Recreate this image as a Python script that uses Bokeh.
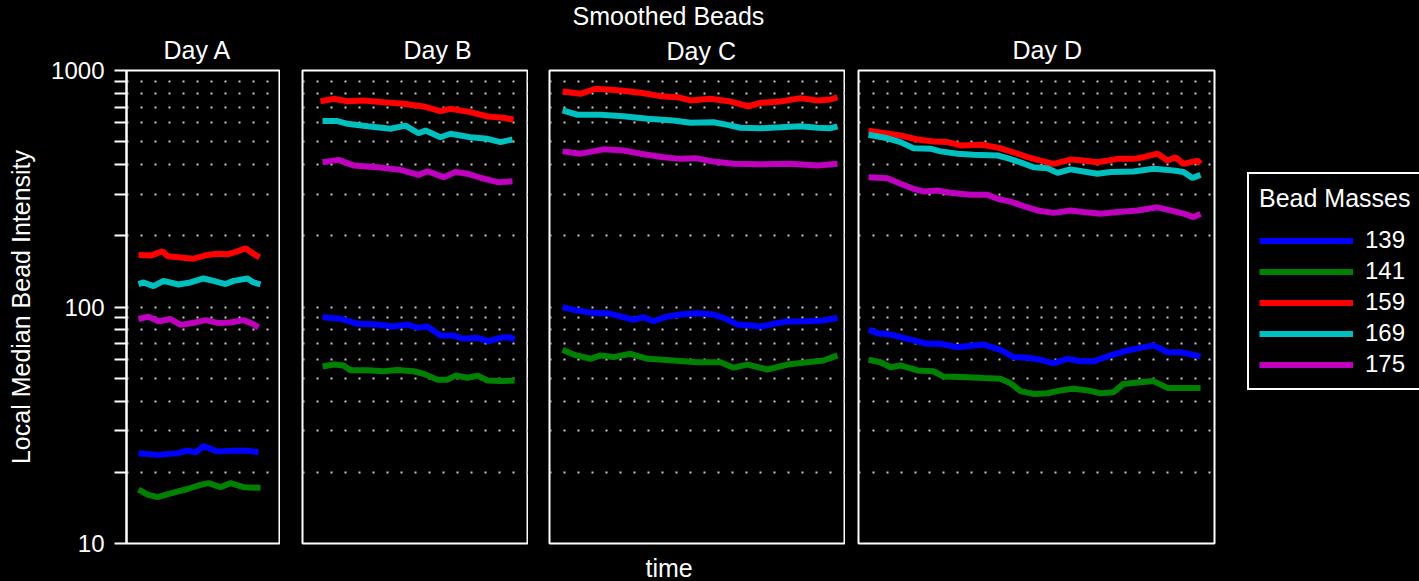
from bokeh.plotting import figure
from bokeh.layouts import row
from bokeh.models import (Range1d, FixedTicker, BasicTickFormatter, Grid,
                          Legend, LegendItem, Title)
from bokeh.embed import file_html
from bokeh.resources import INLINE

FONT = "Liberation Sans"

# Bead masses and their line colours
masses = ["139", "141", "159", "169", "175"]
colors = ["#0000ff", "#008000", "#ff0000", "#00bfbf", "#bf00bf"]

# Smoothed local median intensities: mass -> (time in minutes, intensity)
day_a = {
    "139": ([0, 4.75, 9.75, 12.25, 14.25, 16.25, 19.75, 23.75, 27.25, 30],
            [24.1, 23.7, 24.1, 24.7, 24.3, 25.8, 24.5, 24.7, 24.7, 24.3]),
    "141": ([0, 2.25, 4.75, 8.75, 12.25, 15.5, 17.5, 20.5, 23, 26.25, 30.5],
            [16.9, 16.1, 15.7, 16.4, 17.0, 17.7, 18.0, 17.3, 18.0, 17.3, 17.2]),
    "159": ([0, 3, 6, 7.25, 10.5, 13.75, 17.25, 19.75, 22.25, 24.75, 26.75, 28.75, 30.25],
            [166, 165, 172, 164, 162, 160, 166, 168, 167, 172, 177, 168, 162]),
    "169": ([0, 1.25, 3.75, 6.25, 10, 13, 16.25, 18.75, 21.75, 23.75, 27.25, 28.75, 30.5],
            [125, 127, 122.5, 129, 124.5, 127, 132, 129, 125, 129, 132, 127, 124.5]),
    "175": ([0, 2.5, 5, 8, 10.5, 13.5, 16.75, 20, 23, 26.25, 28.5, 30],
            [89, 91, 87, 89, 84, 85.5, 88, 85.5, 86, 88, 85, 82]),
}

day_b = {
    "139": ([0.5, 5, 9.25, 14.25, 18.25, 21.75, 24.25, 26.75, 30, 33.25, 35.75, 39.25, 42, 45, 47.5, 48.5],
            [90.6, 89.2, 84.9, 84.3, 82.7, 84.3, 81.7, 82.7, 75.7, 75.7, 73.4, 74.1, 71.7, 74.1, 74.5, 72.7]),
    "141": ([0.5, 3.25, 5.75, 7.5, 11.75, 15.75, 19.25, 23.25, 25.75, 29.25, 31.75, 33.75, 36.75, 39.25, 41.75, 45, 48.5],
            [56.0, 57.1, 56.6, 54.0, 54.0, 53.5, 54.2, 53.5, 52.2, 49.3, 49.3, 51.3, 50.2, 51.3, 48.9, 48.6, 48.9]),
    "159": ([0, 3.25, 6.75, 10.75, 15.75, 20.75, 25.75, 30, 32.5, 37.5, 41.75, 45.75, 48.25],
            [741, 759, 741, 747, 734, 723, 705, 673, 689, 667, 639, 631, 619]),
    "169": ([0.5, 4.25, 6.75, 11.75, 17.5, 21.25, 24.5, 26.25, 30, 32.5, 37.5, 41.75, 45, 48],
            [611, 611, 595, 581, 567, 585, 543, 557, 522, 540, 522, 514, 498, 511]),
    "175": ([0.5, 4.5, 8.25, 14.25, 20, 24.5, 26.75, 30.75, 33.75, 36.75, 40, 44.25, 48],
            [409, 419, 397, 390, 380, 362, 375, 354, 372, 366, 352, 337, 340]),
}

day_c = {
    "139": ([0, 2.75, 6.25, 9.5, 11.25, 14.5, 17.75, 20.25, 22.75, 26.25, 29.5, 33.75, 37.75, 40.25,
             43.75, 47, 49.5, 52.75, 56.25, 61.25, 65.25, 68.75],
            [99.8, 97.3, 95.1, 94.2, 94.2, 91.2, 88.3, 90.6, 87.1, 91.2, 92.9, 94.2, 92.9, 90.0,
             84.3, 83.5, 82.7, 84.9, 86.9, 87.1, 87.7, 90.0]),
    "141": ([0, 2.75, 7, 9.5, 12.75, 17, 21.25, 27.75, 33.75, 39.5, 42.75, 46.25, 51.25, 56.25, 61.25, 65.25, 68.75],
            [65.9, 62.9, 60.4, 62.4, 61.4, 63.4, 60.4, 59.4, 58.4, 58.4, 55.4, 57.1, 54.4, 57.1, 58.4, 59.4, 62.4]),
    "159": ([0, 4.5, 8.25, 14.5, 19.5, 24.5, 28.75, 32, 37, 42, 46.5, 49.5, 54.5, 59.5, 63.75, 67, 68.75],
            [815, 797, 837, 823, 805, 779, 771, 747, 759, 739, 706, 730, 739, 764, 747, 754, 771]),
    "169": ([0, 3.75, 9.5, 15.25, 21.25, 27.75, 32, 37.75, 41.25, 44.5, 49.5, 54.5, 59.5, 63.75, 67, 68.75],
            [678, 650, 650, 641, 625, 615, 601, 604, 589, 573, 570, 575, 581, 573, 570, 581]),
    "175": ([0, 4.5, 10.25, 15.25, 19.5, 25.25, 29.5, 33.25, 37.75, 42.75, 49.5, 57, 63.75, 68.75],
            [455, 445, 464, 459, 445, 430, 423, 426, 412, 403, 401, 403, 397, 403]),
}

day_d = {
    "139": ([0, 2.25, 5.5, 9.75, 14.75, 18, 22.25, 26.25, 28.75, 33, 36.25, 39.75, 43, 46.25, 49.75,
             53, 56.25, 59.75, 64.75, 68, 71.25, 74.75, 78, 83],
            [80.1, 77.5, 76.5, 73.3, 69.9, 69.9, 67.6, 68.8, 69.4, 65.9, 61.4, 61.0, 59.8, 57.8, 60.4,
             59.0, 58.9, 61.8, 65.5, 67.2, 68.8, 64.4, 64.4, 61.8]),
    "141": ([0, 3, 5.5, 8, 12.25, 16.25, 18.75, 24.75, 28.75, 33, 35.5, 38, 41.25, 44.75, 48, 51.25,
             54.75, 58, 61.25, 63.75, 68, 71.25, 74.75, 78, 83],
            [59.8, 58.4, 55.6, 56.6, 53.9, 53.5, 50.8, 50.5, 50.1, 49.7, 47.6, 44.1, 42.9, 43.2, 44.4, 45.1,
             44.4, 43.2, 43.6, 47.3, 48.1, 48.6, 45.5, 45.5, 45.5]),
    "159": ([0, 3.75, 8, 12.25, 16.25, 19.75, 23, 28.75, 33, 36.25, 39.75, 43, 46.25, 50.5, 53.75,
             57.25, 62.25, 66.25, 68.75, 72.25, 74.75, 76.75, 78.75, 82.25, 83],
            [557, 545, 531, 511, 501, 498, 482, 485, 469, 451, 430, 416, 403, 420, 416,
             409, 423, 423, 430, 445, 416, 430, 403, 416, 403]),
    "169": ([0, 4.75, 8, 11.25, 15.5, 18, 22.25, 26.25, 32.25, 34.75, 38, 41.25, 44.75, 47.25, 50.5,
             53.75, 57.25, 60.5, 66.25, 71.25, 76.25, 78.75, 81, 83],
            [535, 517, 498, 469, 467, 455, 445, 440, 437, 426, 409, 390, 386, 369, 382,
             374, 366, 372, 374, 384, 378, 372, 351, 362]),
    "175": ([0, 4.75, 8, 11.25, 13.75, 17.25, 20.5, 25.5, 29.75, 32.25, 35.5, 38.75, 42.25, 46.25,
             50.5, 53.75, 58, 62.25, 67.25, 72.25, 75.5, 78.75, 81.25, 83],
            [354, 350, 332, 316, 308, 311, 304, 298, 298, 287, 279, 267, 256, 250,
             256, 252, 248, 252, 256, 264, 256, 248, 240, 248]),
}

day_names = ["Day A", "Day B", "Day C", "Day D"]
day_series = [day_a, day_b, day_c, day_d]
day_time_ranges = [(-3, 35.5), (-4.5, 52), (-3.25, 70.75), (-2.5, 86.5)]

# Log-scale y axis: labelled decades, minor ticks and dotted guides between
y_major = [10, 100, 1000]
y_minor = [20, 30, 40, 50, 60, 70, 80, 90, 200, 300, 400, 500, 600, 700, 800, 900]
y_guides = [20, 30, 40, 50, 60, 70, 80, 90, 100, 200, 300, 400, 500, 600, 700, 800, 900]

# panel geometry: frame width, left border, right border, title offset
frame_widths = [154, 226, 296, 356]
left_borders = [126, 22, 21, 13]
right_borders = [0, 0, 0, 205]
title_offsets = [37, 101, 117, 154]
title_standoffs = [14, 14, 12, 14]
FRAME_H = 473
TOP = 70
BOTTOM = 38


def text_title(text, offset, standoff):
    return Title(text=text, align="left", offset=offset, standoff=standoff,
                 vertical_align="bottom", text_font=FONT, text_font_size="25px",
                 text_font_style="normal", text_color="white")


def make_panel(i):
    first = i == 0
    p = figure(frame_width=frame_widths[i], frame_height=FRAME_H,
               min_border_left=left_borders[i], min_border_right=right_borders[i],
               min_border_top=TOP, min_border_bottom=BOTTOM,
               x_range=Range1d(*day_time_ranges[i]), y_range=Range1d(10, 1000),
               y_axis_type="log", x_axis_location=None,
               y_axis_location="left" if first else None,
               output_backend="svg", toolbar_location=None,
               background_fill_color="black", border_fill_color="black",
               outline_line_color="white", outline_line_width=2,
               title=None)
    p.add_layout(text_title(day_names[i], title_offsets[i], title_standoffs[i]), "above")

    for g in p.grid:
        g.visible = False
    guides = Grid(dimension=1, ticker=FixedTicker(ticks=y_guides),
                  grid_line_color="#c8c8c8", grid_line_width=2,
                  grid_line_dash="2 12")
    p.add_layout(guides, "center")

    if first:
        ax = p.yaxis[0]
        ax.ticker = FixedTicker(ticks=y_major, minor_ticks=y_minor)
        ax.formatter = BasicTickFormatter()
        ax.axis_label = "Local Median Bead Intensity"
        ax.axis_label_text_font = FONT
        ax.axis_label_text_font_size = "25px"
        ax.axis_label_text_font_style = "normal"
        ax.axis_label_text_color = "white"
        ax.axis_label_standoff = 13
        ax.major_label_text_font = FONT
        ax.major_label_text_font_size = "24px"
        ax.major_label_text_color = "white"
        ax.major_label_standoff = 10
        ax.axis_line_color = "white"
        ax.axis_line_width = 2
        ax.major_tick_line_color = "white"
        ax.minor_tick_line_color = "white"
        ax.major_tick_line_width = 2
        ax.minor_tick_line_width = 2
        ax.major_tick_out = 12
        ax.minor_tick_out = 12
        ax.major_tick_in = 0
        ax.minor_tick_in = 0

    renderers = {}
    series = day_series[i]
    for m, c in zip(masses, colors):
        t, v = series[m]
        renderers[m] = p.line(t, v, line_color=c, line_width=6)
    return p, renderers


panels = [make_panel(i) for i in range(4)]
pa, pb, pc, pd = [p for p, _ in panels]
last_rends = panels[3][1]

# overall title above Day C, and the time label below it
pc.add_layout(text_title("Smoothed Beads", 23, -3), "above")
pc.add_layout(text_title("time", 96, 16), "below")

# legend to the right of the last panel
legend = Legend(items=[LegendItem(label=m, renderers=[last_rends[m]]) for m in masses],
                title="Bead Masses", title_text_font=FONT, title_text_font_size="25px",
                title_text_font_style="normal", title_text_color="white", title_standoff=13,
                location=(33, 153), orientation="vertical",
                label_text_font=FONT, label_text_font_size="24px", label_text_color="white",
                glyph_width=94, glyph_height=25, label_height=25, spacing=3,
                padding=10, label_standoff=12, margin=0,
                border_line_color="white", border_line_width=2, border_line_alpha=1.0,
                background_fill_color="black", background_fill_alpha=1.0)
pd.add_layout(legend, "right")

layout = row(pa, pb, pc, pd, spacing=0)
layout.styles = {"background-color": "black"}

open("out.html", "w").write(file_html(layout, INLINE))
